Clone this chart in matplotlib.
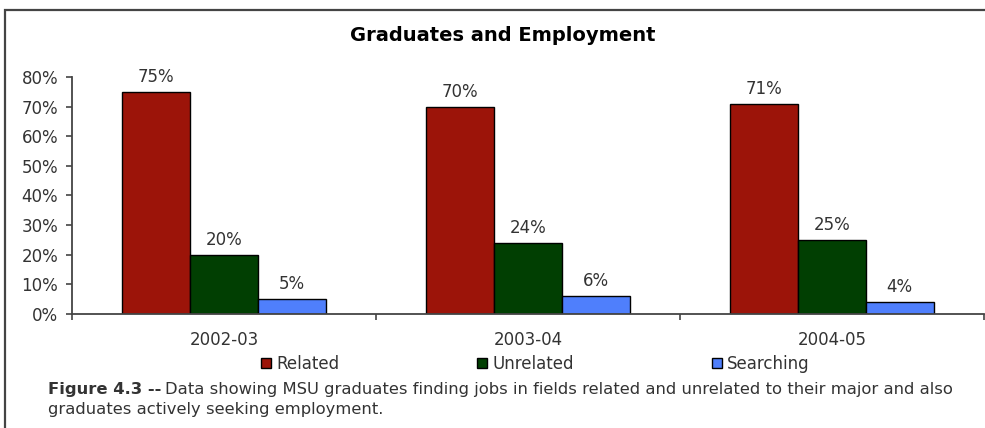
import matplotlib
matplotlib.use("Agg")
import matplotlib.pyplot as plt
import numpy as np
from matplotlib.patches import Rectangle

years = ["2002-03", "2003-04", "2004-05"]
related = [75, 70, 71]
unrelated = [20, 24, 25]
searching = [5, 6, 4]
series_names = ["Related", "Unrelated", "Searching"]
series_colors = ["#9c1409", "#013f02", "#4f7ffc"]
y_ticks = [0, 10, 20, 30, 40, 50, 60, 70, 80]

plt.rcParams['font.family'] = ['DejaVu Sans']
text_gray = '#333333'

fig = plt.figure(figsize=(9.85, 4.28), dpi=100, facecolor='white')
ax = fig.add_axes([0.0731, 0.2664, 0.9259, 0.5537])

# outer frame, runs off the right and bottom edges
fig.patches.append(Rectangle((5 / 985, -0.05), 1.2, 1 - 10 / 428 + 0.05,
                             transform=fig.transFigure, fill=False,
                             edgecolor='#444444', linewidth=1.6))

x = np.arange(len(years))
bar_w = 0.223
for i, (vals, name, col) in enumerate(zip([related, unrelated, searching],
                                          series_names, series_colors)):
    bars = ax.bar(x + (i - 1) * bar_w, vals, bar_w, color=col,
                  edgecolor='black', linewidth=1.0, label=name)
    for b, v in zip(bars, vals):
        ax.text(b.get_x() + b.get_width() / 2, v + 2.0, f"{v}%",
                ha='center', va='bottom', fontsize=12, color=text_gray)

ax.set_xlim(-0.5, 2.5)
ax.set_ylim(0, 80)
ax.set_yticks(y_ticks)
ax.set_yticklabels([f"{t}%" for t in y_ticks])

# group boundary ticks, labels centered under each group
ax.set_xticks([-0.5, 0.5, 1.5, 2.5])
ax.set_xticklabels([])
ax.set_xticks(x, minor=True)
ax.set_xticklabels(years, minor=True)
ax.tick_params(axis='x', which='major', length=4, width=1.2, color='#444444')
ax.tick_params(axis='x', which='minor', length=0, pad=12, labelsize=12,
               labelcolor=text_gray)
ax.tick_params(axis='y', length=4, width=1.2, color='#444444', pad=6,
               labelsize=12, labelcolor=text_gray)

for side in ['top', 'right']:
    ax.spines[side].set_visible(False)
for side in ['left', 'bottom']:
    ax.spines[side].set_color('#444444')
    ax.spines[side].set_linewidth(1.3)

fig.text(0.51, 0.918, "Graduates and Employment", ha='center', va='center',
         fontsize=14, fontweight='bold', color='black')

handles, labels = ax.get_legend_handles_labels()
fig.legend(handles, labels, loc='center', bbox_to_anchor=(0.5436, 0.1495),
           ncol=3, frameon=False, fontsize=12, labelcolor=text_gray,
           handlelength=0.6, handleheight=0.6, handletextpad=0.3,
           columnspacing=8.3, borderpad=0)

# caption with bold lead-in
fig.canvas.draw()
r = fig.canvas.get_renderer()
lead = fig.text(48 / 985, 0.0905, "Figure 4.3 --", fontsize=11.8,
                fontweight='bold', color=text_gray, va='center', ha='left')
bb = lead.get_window_extent(renderer=r)
fig.text(bb.x1 / fig.bbox.width + 4 / 985, 0.0905,
         "Data showing MSU graduates finding jobs in fields related and "
         "unrelated to their major and also",
         fontsize=11.8, color=text_gray, va='center', ha='left')
fig.text(48 / 985, 0.044, "graduates actively seeking employment.",
         fontsize=11.8, color=text_gray, va='center', ha='left')

fig.savefig("out.png", dpi=100, facecolor='white')
